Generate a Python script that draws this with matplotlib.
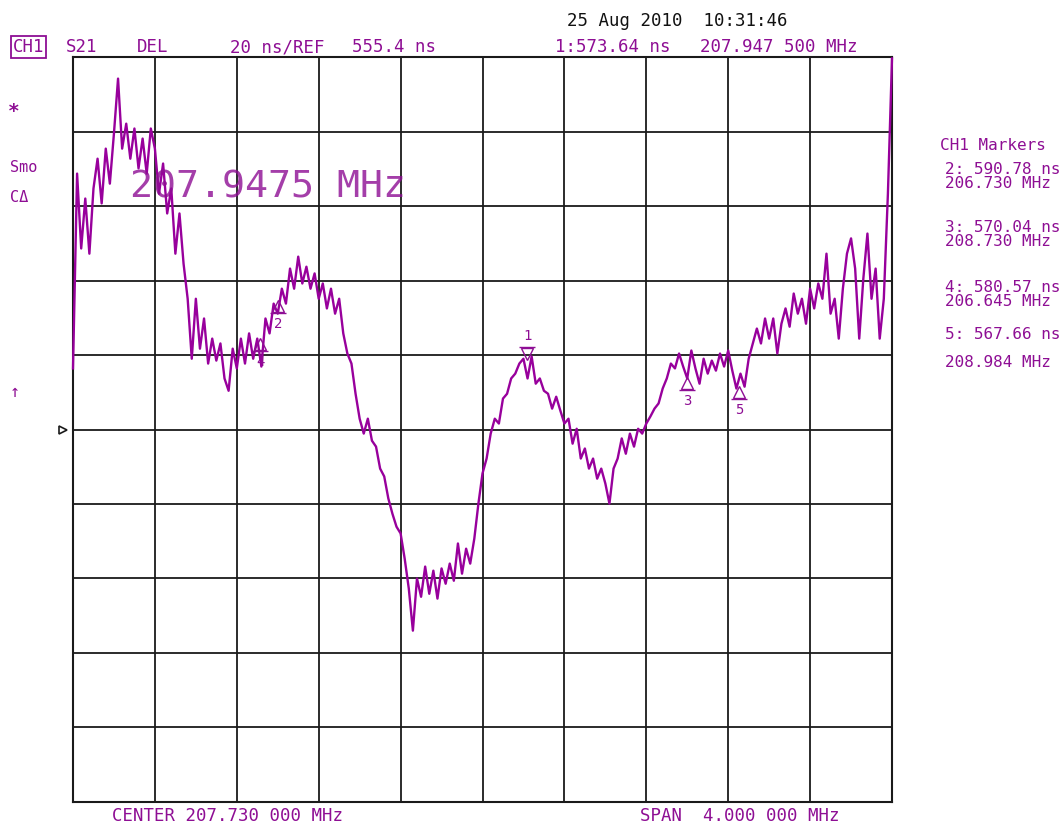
"""
Network analyzer screen dump: S21 group delay, CH1
"""
import matplotlib
matplotlib.use('Agg')
import matplotlib.pyplot as plt
import numpy as np
from matplotlib.transforms import offset_copy

# sweep: center 207.730 MHz, span 4 MHz, 201 points
center_mhz = 207.730
span_mhz = 4.0
ref_ns = 555.4
ns_per_div = 20

# delay trace (ns), one value per sweep point
delay_ns = [
    571.8, 624.1, 604.0, 617.4, 602.6, 620.1, 628.1, 616.1, 630.8, 621.4,
    634.9, 649.6, 630.8, 637.5, 628.1, 636.2, 625.5, 633.5, 624.1, 636.2,
    630.8, 618.7, 626.8, 613.4, 620.1, 602.6, 613.4, 599.9, 590.5, 574.4,
    590.5, 577.1, 585.2, 573.1, 579.8, 573.9, 578.5, 569.1, 565.8, 577.1,
    571.8, 579.8, 573.1, 581.2, 574.4, 579.8, 572.3, 585.2, 581.2, 589.2,
    586.5, 593.2, 589.2, 598.6, 593.2, 601.8, 594.6, 599.1, 593.2, 597.3,
    590.5, 594.6, 587.9, 593.2, 586.5, 590.5, 581.2, 575.8, 573.1, 565.0,
    558.3, 554.3, 558.3, 552.4, 550.8, 544.9, 542.8, 536.9, 532.8, 529.3,
    527.5, 520.7, 512.7, 501.4, 515.4, 510.5, 518.6, 511.3, 517.5, 510.0,
    518.1, 514.0, 519.4, 514.8, 524.8, 516.7, 523.4, 519.4, 526.1, 535.5,
    543.6, 547.6, 554.3, 558.3, 557.0, 563.7, 565.0, 569.1, 570.4, 573.1,
    574.4, 569.1, 575.0, 567.7, 569.1, 565.8, 565.0, 561.0, 564.2, 560.5,
    557.0, 558.3, 551.6, 555.6, 547.6, 550.3, 544.9, 547.6, 542.2, 544.9,
    540.9, 535.5, 544.9, 547.6, 553.0, 548.9, 554.3, 550.8, 555.6, 554.3,
    557.0, 558.9, 561.0, 562.4, 566.4, 569.1, 573.1, 571.8, 575.8, 572.3,
    569.1, 576.6, 571.8, 567.7, 574.4, 570.4, 573.9, 571.2, 575.8, 572.3,
    576.6, 571.2, 566.4, 570.4, 566.9, 574.4, 578.5, 582.5, 578.5, 585.2,
    579.8, 585.2, 575.8, 583.8, 587.9, 583.0, 591.9, 586.5, 590.5, 583.8,
    593.2, 587.9, 594.6, 590.5, 602.6, 586.5, 590.5, 579.8, 593.2, 602.6,
    606.7, 598.6, 579.8, 595.9, 608.0, 590.5, 598.6, 579.8, 590.5, 618.7,
    655.0,
]

# markers
marker_ids = ['1', '2', '3', '4', '5']
marker_mhz = [207.9475, 206.730, 208.730, 206.645, 208.984]
marker_ns = [573.64, 590.78, 570.04, 580.57, 567.66]

PURPLE = '#8E0E94'
TRACE = '#98009C'
MONO = 'DejaVu Sans Mono'

W, H = 1064, 825
fig = plt.figure(figsize=(W / 100, H / 100), dpi=100)
fig.patch.set_facecolor('white')


def fx(x):
    return x / W


def fy(y):
    return 1 - y / H


ax = fig.add_axes([fx(73), fy(802), fx(892) - fx(73), fy(57) - fy(802)])

f_lo = center_mhz - span_mhz / 2
f_hi = center_mhz + span_mhz / 2
freq = np.linspace(f_lo, f_hi, len(delay_ns))

ax.set_xlim(f_lo, f_hi)
ax.set_ylim(ref_ns - 5 * ns_per_div, ref_ns + 5 * ns_per_div)
ax.set_xticks(np.linspace(f_lo, f_hi, 11))
ax.set_yticks(ref_ns + ns_per_div * np.arange(-5, 6))
ax.tick_params(length=0, labelbottom=False, labelleft=False)
ax.grid(True, color='#1a1a1a', linewidth=1.3)
ax.set_axisbelow(True)
for s in ax.spines.values():
    s.set_color('#1a1a1a')
    s.set_linewidth(1.5)

ax.plot(freq, delay_ns, color=TRACE, linewidth=1.7, zorder=3, clip_on=False)

# marker symbols: 1 sits above the trace, the others below
for mid, mf, md in zip(marker_ids, marker_mhz, marker_ns):
    sgn = 1 if mid == '1' else -1
    tri = offset_copy(ax.transData, fig=fig, y=sgn * 8, units='dots')
    bar = offset_copy(ax.transData, fig=fig, y=sgn * 15, units='dots')
    lab = offset_copy(ax.transData, fig=fig, y=sgn * 26, units='dots')
    ax.plot([mf], [md], marker='v' if sgn > 0 else '^', markersize=8,
            markerfacecolor='none', markeredgecolor=PURPLE, markeredgewidth=1,
            transform=tri, zorder=4, clip_on=False)
    ax.plot([mf], [md], marker='_', markersize=12, markeredgecolor=PURPLE,
            markeredgewidth=1, transform=bar, zorder=4, clip_on=False)
    ax.text(mf, md, mid, transform=lab, ha='center', va='center',
            color=PURPLE, fontsize=10, family=MONO, zorder=4)

# big marker readout inside the grid
fig.text(fx(130), fy(188), '207.9475 MHz', color=PURPLE, fontsize=27.5,
         family=MONO, ha='left', va='center', alpha=0.8)

# ref position arrow on the left edge
ax.plot([-0.012], [0.5], marker='>', markersize=6, markerfacecolor='white',
        markeredgecolor='#1a1a1a', markeredgewidth=1.2,
        transform=ax.transAxes, clip_on=False)

# header
fig.text(fx(567), fy(21), '25 Aug 2010  10:31:46', color='#111111',
         fontsize=12.5, family=MONO, ha='left', va='center')
fig.text(fx(13), fy(47), 'CH1', color=PURPLE, fontsize=12.5, family=MONO,
         ha='left', va='center',
         bbox=dict(boxstyle='square,pad=0.1', facecolor='none',
                   edgecolor=PURPLE, linewidth=1.3))
fig.text(fx(66), fy(47), 'S21', color=PURPLE, fontsize=12.5, family=MONO,
         ha='left', va='center')
fig.text(fx(137), fy(47), 'DEL', color=PURPLE, fontsize=12.5, family=MONO,
         ha='left', va='center')
fig.text(fx(230), fy(47), '20 ns/REF', color=PURPLE, fontsize=12.5,
         family=MONO, ha='left', va='center')
fig.text(fx(352), fy(47), '555.4 ns', color=PURPLE, fontsize=12.5,
         family=MONO, ha='left', va='center')
fig.text(fx(555), fy(47), '1:573.64 ns', color=PURPLE, fontsize=12.5,
         family=MONO, ha='left', va='center')
fig.text(fx(700), fy(47), '207.947 500 MHz', color=PURPLE, fontsize=12.5,
         family=MONO, ha='left', va='center')

# left annotations
fig.text(fx(14), fy(111), '*', color=PURPLE, fontsize=14, family=MONO,
         ha='center', va='center', fontweight='bold')
fig.text(fx(10), fy(168), 'Smo', color=PURPLE, fontsize=11, family=MONO,
         ha='left', va='center')
fig.text(fx(10), fy(197), 'C\u0394', color=PURPLE, fontsize=11, family=MONO,
         ha='left', va='center')
fig.text(fx(15), fy(392), '\u2191', color=PURPLE, fontsize=12, family=MONO,
         ha='center', va='center')

# marker table on the right
right_lines = [
    ('CH1 Markers', 145),
    ('2: 590.78 ns', 170),
    ('206.730 MHz', 184),
    ('3: 570.04 ns', 228),
    ('208.730 MHz', 242),
    ('4: 580.57 ns', 288),
    ('206.645 MHz', 302),
    ('5: 567.66 ns', 335),
    ('208.984 MHz', 363),
]
for txt, ypx in right_lines:
    x0 = 940 if txt.startswith('CH1') else 945
    fig.text(fx(x0), fy(ypx), txt, color=PURPLE, fontsize=11.5, family=MONO,
             ha='left', va='center')

# footer
fig.text(fx(112), fy(816), 'CENTER 207.730 000 MHz', color=PURPLE,
         fontsize=12.5, family=MONO, ha='left', va='center')
fig.text(fx(640), fy(816), 'SPAN  4.000 000 MHz', color=PURPLE,
         fontsize=12.5, family=MONO, ha='left', va='center')

plt.savefig('out.png', dpi=100)
